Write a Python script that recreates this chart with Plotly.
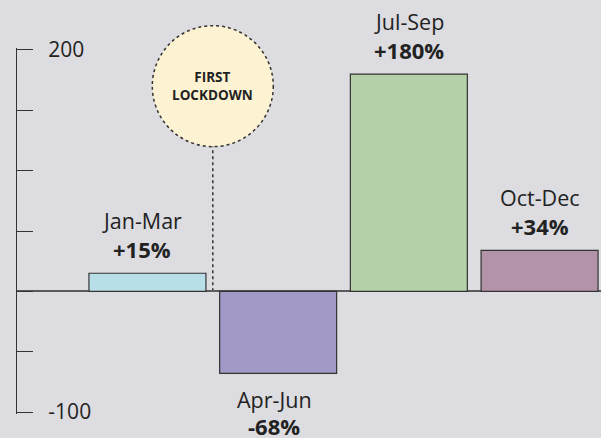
import plotly.graph_objects as go

quarters = ["Jan-Mar", "Apr-Jun", "Jul-Sep", "Oct-Dec"]
changes = [15, -68, 180, 34]
bar_colors = ["#b8dfe8", "#a399c7", "#b4d1a9", "#b393a8"]
tick_vals = [-100, -50, 0, 50, 100, 150, 200]
label_vals = [-100, 200]
label_text = ["-100", "200"]
event_label = "FIRST<br>LOCKDOWN"
event_x = 0.5      # boundary between Jan-Mar and Apr-Jun
event_y = 170      # bubble centre value

FONT = "Open Sans"
TXT = "#222222"
BG = "#dcdce1"
XR = [-0.998, 3.47]
YR = [-101.6, 201.6]
label_dx = [-5, -4, 0, 0]

fig = go.Figure()
fig.add_trace(go.Bar(
    x=quarters, y=changes,
    marker=dict(color=bar_colors, line=dict(color="#333333", width=1.2)),
    width=0.895, hoverinfo="skip",
))

annotations = []
for q, v, dx in zip(quarters, changes, label_dx):
    if v >= 0:
        cat_shift, val_shift = 53, 24
    else:
        cat_shift, val_shift = -26, -53
    annotations.append(dict(x=q, y=v, text=q, showarrow=False, yshift=cat_shift, xshift=dx,
                            yanchor="middle", font=dict(family=FONT, size=21.5, color=TXT)))
    annotations.append(dict(x=q, y=v, text=f"<b>{v:+d}%</b>", showarrow=False, yshift=val_shift,
                            xshift=dx, yanchor="middle", font=dict(family=FONT, size=22, color=TXT)))

bx = (event_x - XR[0]) / (XR[1] - XR[0])
by = (event_y - YR[0]) / (YR[1] - YR[0])
annotations.append(dict(xref="paper", yref="paper", x=bx, y=by, text=f"<b>{event_label}</b>",
                        showarrow=False, font=dict(family=FONT, size=13.5, color=TXT),
                        yanchor="middle", xanchor="center"))

shapes = [
    dict(type="line", xref="x", yref="y", x0=event_x, x1=event_x, y0=0, y1=event_y - 50,
         line=dict(color="#333333", width=1.5, dash="dot"), layer="below"),
    dict(type="circle", xref="paper", yref="paper", xsizemode="pixel", ysizemode="pixel",
         xanchor=bx, yanchor=by, x0=-60.5, x1=60.5, y0=-60.5, y1=60.5,
         fillcolor="#fdf3d2", line=dict(color="#333333", width=1.5, dash="dot"), layer="below"),
]

fig.add_trace(go.Scatter(x=[None], y=[None], yaxis="y2", showlegend=False, hoverinfo="skip"))

fig.update_layout(
    width=601, height=438,
    margin=dict(l=17, r=0, t=48, b=24, autoexpand=False),
    paper_bgcolor=BG, plot_bgcolor=BG,
    showlegend=False,
    annotations=annotations,
    shapes=shapes,
    xaxis=dict(type="category", range=XR, showticklabels=False, ticks="",
               showgrid=False, zeroline=False, showline=False, fixedrange=True,
               automargin=False),
    yaxis=dict(range=YR, tickvals=tick_vals, showticklabels=False,
               ticks="inside", ticklen=16, tickwidth=1.2, tickcolor="#333333",
               showline=True, linecolor="#333333", linewidth=1.2,
               showgrid=False, zeroline=True, zerolinecolor="#5a5a5a", zerolinewidth=2,
               fixedrange=True, automargin=False),
    yaxis2=dict(range=YR, tickvals=label_vals, ticktext=label_text, overlaying="y",
                anchor="free", side="right", position=0.052, ticks="",
                showline=False, showgrid=False, zeroline=False,
                tickfont=dict(family=FONT, size=21, color=TXT),
                fixedrange=True, automargin=False),
)

fig.write_html("out.html", config={"displayModeBar": False},
               post_script="document.body.style.margin='0';document.body.style.overflow='hidden';")
